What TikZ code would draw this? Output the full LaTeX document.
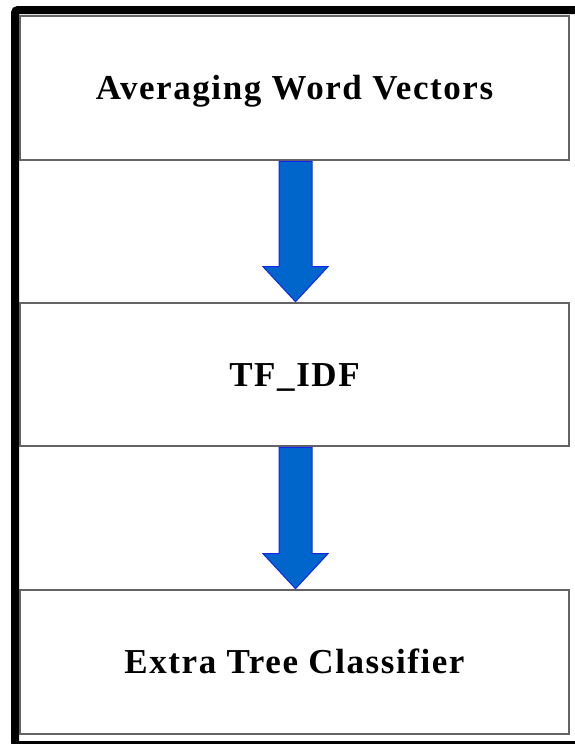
\documentclass[tikz,border=0pt]{standalone}
\usepackage{fontspec}
\newfontfamily\boxfont{Liberation Serif}[LetterSpace=4.5]
\usetikzlibrary{calc}
\definecolor{arrowfill}{RGB}{0,102,204}
\definecolor{arrowline}{RGB}{20,40,235}
\definecolor{boxline}{RGB}{100,100,100}
\tikzset{
  stagebox/.style={draw=boxline, line width=2.6pt, fill=white, rectangle,
    minimum width=549pt, inner sep=0pt, text height=23pt, text depth=0pt,
    font=\boxfont\bfseries\fontsize{35}{40}\selectfont},
  bigarrow/.style={fill=arrowfill, draw=arrowline, line width=1pt, line join=miter}
}
\begin{document}
\begin{tikzpicture}[x=1pt,y=-1pt]
\useasboundingbox (0,0) rectangle (574,744);
\fill[white] (0,0) rectangle (574,744);
% outer frame
\draw[line width=8pt, rounded corners=3pt] (15,10) rectangle (590,745);
% boxes
\node[stagebox, minimum height=144pt] (b1) at (294.5,88) {Averaging Word Vectors};
\node[stagebox, minimum height=143pt] (b2) at (294.5,374.5) {TF\_IDF};
\node[stagebox, minimum height=144pt] (b3) at (294.5,662) {Extra Tree Classifier};
% arrows
\foreach \a/\b in {b1/b2, b2/b3}{
  \draw[bigarrow] let \p1=($(\a.south)+(1,0)$), \p2=($(\b.north)+(1,0)$) in
    (\x1-16.5pt,\y1) -- (\x1+16.5pt,\y1) -- (\x1+16.5pt,\y2+35pt) -- (\x1+32.5pt,\y2+35pt)
    -- (\x2,\y2) -- (\x1-32.5pt,\y2+35pt) -- (\x1-16.5pt,\y2+35pt) -- cycle;
}
\end{tikzpicture}
\end{document}
